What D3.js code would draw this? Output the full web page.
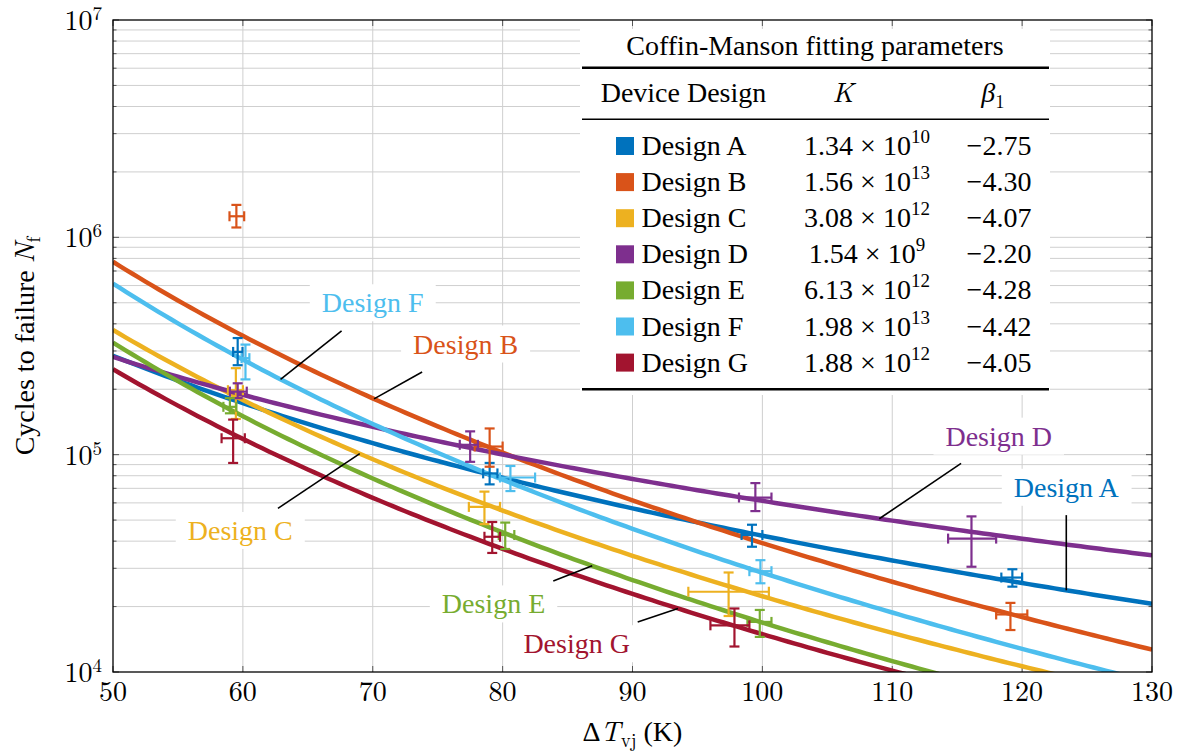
<!DOCTYPE html>
<html>
<head>
<meta charset="utf-8">
<script src="https://cdn.jsdelivr.net/npm/d3@7"></script>
<style>
  body { margin: 0; background: #fff; }
</style>
</head>
<body>
<svg id="viz"></svg>
<script>

/********
 * DATA *
 ********/

// Fitted Coffin-Manson parameters, one entry per device design
var DESIGNS = ["Design A", "Design B", "Design C", "Design D", "Design E", "Design F", "Design G"];
var COLORS = ["#0072BD", "#D95319", "#EDB120", "#7E2F8E", "#77AC30", "#4DBEEE", "#A2142F"];
var FIT_K = [1.34e10, 1.56e13, 3.08e12, 1.54e9, 6.13e12, 1.98e13, 1.88e12];
var FIT_K_MANTISSA = ["1.34", "1.56", "3.08", "1.54", "6.13", "1.98", "1.88"];
var FIT_K_EXPONENT = ["10", "13", "12", "9", "12", "13", "12"];
var FIT_BETA = [-2.75, -4.30, -4.07, -2.20, -4.28, -4.42, -4.05];
var FIT_BETA_LABEL = ["\u22122.75", "\u22124.30", "\u22124.07", "\u22122.20", "\u22124.28", "\u22124.42", "\u22124.05"];

// Measured points (index into DESIGNS), temperature swing and its range, cycles and range
var PT_DESIGN = [0, 0, 0, 0,  1, 1, 1,  2, 2, 2,  3, 3, 3, 3,  4, 4, 4,  5, 5, 5,  6, 6, 6];
var PT_DT     = [59.6, 79.0, 99.2, 119.25,  59.5, 79.0, 119.1,  59.46, 78.6, 97.4,  59.6, 77.5, 99.46, 116.1,  59.0, 80.2, 99.8,  60.2, 80.6, 99.85,  59.25, 79.2, 97.85];
var PT_DT_LO  = [59.25, 78.5, 98.4, 118.4,  58.97, 77.85, 118.0,  58.85, 77.4, 94.3,  59.0, 76.7, 98.2, 114.3,  58.5, 79.7, 98.85,  59.9, 79.8, 99.0,  58.36, 78.6, 96.0];
var PT_DT_HI  = [59.97, 79.6, 100.0, 120.0,  60.1, 80.0, 120.4,  60.0, 79.8, 100.5,  60.3, 78.1, 100.7, 118.0,  59.5, 80.9, 100.7,  60.5, 82.5, 100.7,  60.15, 79.8, 99.0];
var PT_N      = [2.97e5, 8.2e4, 4.27e4, 2.72e4,  1.25e6, 1.09e5, 1.84e4,  1.98e5, 5.75e4, 2.34e4,  1.95e5, 1.11e5, 6.35e4, 4.11e4,  1.66e5, 4.27e4, 1.7e4,  2.78e5, 7.85e4, 2.91e4,  1.19e5, 4.19e4, 1.64e4];
var PT_N_LO   = [2.58e5, 7.3e4, 3.77e4, 2.47e4,  1.11e6, 8.8e4, 1.56e4,  1.46e5, 4.79e4, 1.81e4,  1.82e5, 9.27e4, 5.5e4, 3.05e4,  1.55e5, 3.68e4, 1.45e4,  2.22e5, 6.8e4, 2.56e4,  9.16e4, 3.53e4, 1.31e4];
var PT_N_HI   = [3.44e5, 9.16e4, 4.76e4, 2.97e4,  1.41e6, 1.32e5, 2.08e4,  2.5e5, 6.76e4, 2.87e4,  2.13e5, 1.28e5, 7.4e4, 5.2e4,  1.82e5, 4.87e4, 1.93e4,  3.21e5, 8.87e4, 3.27e4,  1.45e5, 4.9e4, 1.96e4];

var X_TICKS = [50, 60, 70, 80, 90, 100, 110, 120, 130];
var Y_DECADES = ["4", "5", "6", "7"];

/*****************
 * INITIAL SETUP *
 *****************/

var SVG_WIDTH = 1179, SVG_HEIGHT = 753;
var LEFT = 113, RIGHT = 1152, TOP = 20, BOTTOM = 672;
var GRID_COLOR = "#cfcfcf", TICK_COLOR = "#555";
var TEXT_FONT = "'Liberation Serif'";
var MATH_FONT = "'Latin Modern Roman'";

var SVG_SPACE = d3.select("#viz")
	.attr("width", SVG_WIDTH)
	.attr("height", SVG_HEIGHT);

var x = d3.scaleLinear().domain([50, 130]).range([LEFT, RIGHT]);
var y = d3.scaleLog().domain([1e4, 1e7]).range([BOTTOM, TOP]);

// small helper so every label gets a serif face
function addText(parent, size, font){
	return parent.append("text")
		.style("font-family", font || TEXT_FONT)
		.style("font-size", size + "px")
		.style("fill", "#000");
}

// Grid
var yTicksAll = y.ticks();
SVG_SPACE.append("g").selectAll("line")
	.data(yTicksAll.filter(function(d){ return d > 1e4 && d < 1e7; }))
	.enter().append("line")
	.attr("x1", LEFT).attr("x2", RIGHT)
	.attr("y1", function(d){ return y(d); }).attr("y2", function(d){ return y(d); })
	.attr("stroke", GRID_COLOR).attr("stroke-width", 1);

SVG_SPACE.append("g").selectAll("line")
	.data(X_TICKS.slice(1, -1))
	.enter().append("line")
	.attr("x1", function(d){ return x(d); }).attr("x2", function(d){ return x(d); })
	.attr("y1", TOP).attr("y2", BOTTOM)
	.attr("stroke", GRID_COLOR).attr("stroke-width", 1);

// Inward ticks on all sides
function isMajor(d){ return Math.abs(Math.log10(d) - Math.round(Math.log10(d))) < 1e-9; }
var ticks = SVG_SPACE.append("g").attr("stroke", TICK_COLOR).attr("stroke-width", 1);
yTicksAll.forEach(function(d){
	var len = isMajor(d) ? 6 : 3.5;
	ticks.append("line").attr("x1", LEFT).attr("x2", LEFT + len).attr("y1", y(d)).attr("y2", y(d));
	ticks.append("line").attr("x1", RIGHT).attr("x2", RIGHT - len).attr("y1", y(d)).attr("y2", y(d));
});
X_TICKS.forEach(function(d){
	ticks.append("line").attr("x1", x(d)).attr("x2", x(d)).attr("y1", BOTTOM).attr("y2", BOTTOM - 6);
	ticks.append("line").attr("x1", x(d)).attr("x2", x(d)).attr("y1", TOP).attr("y2", TOP + 6);
});

/**********
 * CURVES *
 **********/

SVG_SPACE.append("clipPath").attr("id", "plotclip")
	.append("rect").attr("x", LEFT).attr("y", TOP)
	.attr("width", RIGHT - LEFT).attr("height", BOTTOM - TOP);

function fitValue(i, t){ return FIT_K[i] * Math.pow(t, FIT_BETA[i]); }

var line = d3.line()
	.x(function(d){ return x(d[0]); })
	.y(function(d){ return y(d[1]); });

var samples = d3.range(50, 130.01, 0.5);
SVG_SPACE.append("g").attr("clip-path", "url(#plotclip)")
	.selectAll("path")
	.data(DESIGNS)
	.enter().append("path")
	.attr("fill", "none")
	.attr("stroke", function(d, i){ return COLORS[i]; })
	.attr("stroke-width", 4.5)
	.attr("d", function(d, i){
		return line(samples.map(function(t){ return [t, fitValue(i, t)]; }));
	});

/**************
 * ERROR BARS *
 **************/

var CAP = 5;
var bars = SVG_SPACE.append("g").attr("stroke-width", 2.2).attr("fill", "none");
PT_DT.forEach(function(t, k){
	var c = COLORS[PT_DESIGN[k]];
	var g = bars.append("g").attr("stroke", c);
	var cx = x(t), cy = y(PT_N[k]);
	var yl = y(PT_N_LO[k]), yh = y(PT_N_HI[k]);
	var xl = x(PT_DT_LO[k]), xh = x(PT_DT_HI[k]);
	g.append("line").attr("x1", cx).attr("x2", cx).attr("y1", yl).attr("y2", yh);
	g.append("line").attr("x1", cx - CAP).attr("x2", cx + CAP).attr("y1", yl).attr("y2", yl);
	g.append("line").attr("x1", cx - CAP).attr("x2", cx + CAP).attr("y1", yh).attr("y2", yh);
	g.append("line").attr("x1", xl).attr("x2", xh).attr("y1", cy).attr("y2", cy);
	g.append("line").attr("x1", xl).attr("x2", xl).attr("y1", cy - CAP).attr("y2", cy + CAP);
	g.append("line").attr("x1", xh).attr("x2", xh).attr("y1", cy - CAP).attr("y2", cy + CAP);
});

/***************
 * ANNOTATIONS *
 ***************/

// label centre (dT, N), leader start (dT, N), leader end on the curve (dT)
var LABELS = [
	{ d: 0, lx: 123.4, ly: 6.4e4,  sx: 123.4, sy: 5.27e4, ex: 123.4 },
	{ d: 1, lx: 77.15, ly: 2.92e5, sx: 73.8,  sy: 2.4e5,  ex: 70.1 },
	{ d: 2, lx: 59.8,  ly: 4.05e4, sx: 62.7,  sy: 5.66e4, ex: 69.0 },
	{ d: 3, lx: 118.2, ly: 1.1e5,  sx: 115.3, sy: 9.12e4, ex: 109.0 },
	{ d: 4, lx: 79.3,  ly: 1.86e4, sx: 83.9,  sy: 2.62e4, ex: 86.9 },
	{ d: 5, lx: 70.0,  ly: 4.52e5, sx: 67.6,  sy: 3.71e5, ex: 62.9 },
	{ d: 6, lx: 85.7,  ly: 1.22e4, sx: 90.4,  sy: 1.7e4,  ex: 93.5 }
];

var ann = SVG_SPACE.append("g");
LABELS.forEach(function(a){
	ann.append("line")
		.attr("x1", x(a.sx)).attr("y1", y(a.sy))
		.attr("x2", x(a.ex)).attr("y2", y(fitValue(a.d, a.ex)))
		.attr("stroke", "#000").attr("stroke-width", 1.6);
	var g = ann.append("g");
	var bg = g.append("rect").attr("fill", "#fff");
	var txt = addText(g, 28)
		.attr("x", x(a.lx)).attr("y", y(a.ly))
		.attr("text-anchor", "middle")
		.style("fill", COLORS[a.d])
		.text(DESIGNS[a.d]);
	var bb = txt.node().getBBox();
	bg.attr("x", bb.x - 12).attr("y", bb.y - 3)
		.attr("width", bb.width + 24).attr("height", bb.height + 6);
});

/*********
 * TABLE *
 *********/

var table = SVG_SPACE.append("g");
table.append("rect").attr("x", 580).attr("y", 29).attr("width", 470).attr("height", 366).attr("fill", "#fff");
addText(table, 28).attr("x", 815).attr("y", 55).attr("text-anchor", "middle")
	.text("Coffin-Manson fitting parameters");
table.append("line").attr("x1", 582).attr("x2", 1049).attr("y1", 67.7).attr("y2", 67.7)
	.attr("stroke", "#000").attr("stroke-width", 2.5);
addText(table, 28).attr("x", 683.5).attr("y", 101.7).attr("text-anchor", "middle")
	.text("Device Design");
addText(table, 28, MATH_FONT).attr("x", 843).attr("y", 101.7).attr("text-anchor", "middle")
	.style("font-style", "italic").text("K");
var betaHead = addText(table, 28, MATH_FONT).attr("x", 993).attr("y", 101.7).attr("text-anchor", "middle");
betaHead.append("tspan").style("font-style", "italic").text("\u03b2");
betaHead.append("tspan").attr("dy", 6).style("font-size", "19px").text("1");
table.append("line").attr("x1", 582).attr("x2", 1049).attr("y1", 119.3).attr("y2", 119.3)
	.attr("stroke", "#000").attr("stroke-width", 1.5);

DESIGNS.forEach(function(name, i){
	var base = 155 + i * 36.1;
	table.append("rect").attr("x", 616).attr("y", base - 18).attr("width", 18).attr("height", 18)
		.attr("fill", COLORS[i]);
	addText(table, 28).attr("x", 641.5).attr("y", base).text(name);
	var kt = addText(table, 28).attr("x", 867).attr("y", base).attr("text-anchor", "middle");
	kt.append("tspan").text(FIT_K_MANTISSA[i] + " \u00d7 10");
	kt.append("tspan").attr("dy", -12).style("font-size", "19px").text(FIT_K_EXPONENT[i]);
	addText(table, 28).attr("x", 999).attr("y", base).attr("text-anchor", "middle")
		.text(FIT_BETA_LABEL[i]);
});
table.append("line").attr("x1", 582).attr("x2", 1049).attr("y1", 389.3).attr("y2", 389.3)
	.attr("stroke", "#000").attr("stroke-width", 2.5);

/********
 * AXES *
 ********/

SVG_SPACE.append("rect").attr("x", LEFT).attr("y", TOP)
	.attr("width", RIGHT - LEFT).attr("height", BOTTOM - TOP)
	.attr("fill", "none").attr("stroke", "#000").attr("stroke-width", 1.3);

X_TICKS.forEach(function(d){
	addText(SVG_SPACE, 28, MATH_FONT)
		.attr("x", x(d)).attr("y", 701)
		.attr("text-anchor", "middle")
		.text(d);
});

Y_DECADES.forEach(function(e){
	var t = addText(SVG_SPACE, 28, MATH_FONT)
		.attr("x", 102).attr("y", y(Math.pow(10, +e)) + 10)
		.attr("text-anchor", "end");
	t.append("tspan").text("10");
	t.append("tspan").attr("dy", -10).style("font-size", "19px").text(e);
});

var xt = addText(SVG_SPACE, 28).attr("x", (LEFT + RIGHT) / 2).attr("y", 741)
	.attr("text-anchor", "middle");
xt.append("tspan").text("\u0394");
xt.append("tspan").style("font-family", MATH_FONT).style("font-style", "italic").text("T");
xt.append("tspan").attr("dy", 6).style("font-family", MATH_FONT).style("font-size", "19px").text("vj");
xt.append("tspan").attr("dy", -6).text(" (K)");

var yt = addText(SVG_SPACE, 28)
	.attr("transform", "translate(34," + ((TOP + BOTTOM) / 2) + ") rotate(-90)")
	.attr("text-anchor", "middle");
yt.append("tspan").text("Cycles to failure ");
yt.append("tspan").style("font-family", MATH_FONT).style("font-style", "italic").text("N");
yt.append("tspan").attr("dy", 6).style("font-family", MATH_FONT).style("font-size", "19px").text("f");

</script>
</body>
</html>
